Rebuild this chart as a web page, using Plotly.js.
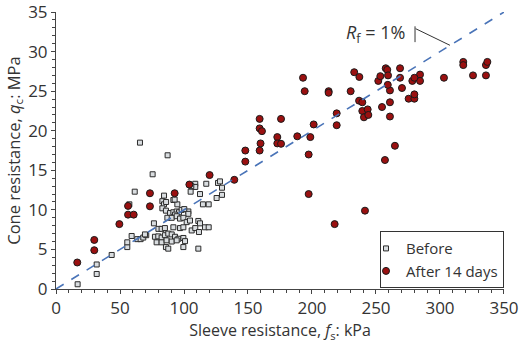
<!DOCTYPE html>
<html>
<head>
<meta charset="utf-8">
<script src="https://cdn.plot.ly/plotly-3.0.1.min.js"></script>
<style>html,body{margin:0;padding:0;background:#fff;}#chart{width:520px;height:347px;}</style>
</head>
<body>
<div id="chart"></div>
<script>
// Before: sleeve resistance fs (kPa) and cone resistance qc (MPa)
const beforeFs = [16.9,31.8,31.8,43.5,55.7,55.7,59.1,57.3,61.5,65.6,63.5,66.1,68.2,70.5,75.5,87.2,84.4,105.2,108.8,108.8,105.7,117.4,112.5,126.6,128.1,125.5,114.8,119.3,129.7,129.7,83.1,84.4,91.7,94.8,103.4,83.1,85.9,89.1,91.7,94.3,96.1,98.2,100.2,103.4,93.0,87.0,90.4,94.3,96.9,99.5,102.1,104.7,111.2,112.5,76.5,80.0,82.5,85.1,91.7,96.9,99.5,106.0,108.8,116.4,119.3,69.5,77.3,79.9,82.5,85.1,87.7,90.4,93.0,95.6,99.5,78.6,82.5,86.4,90.4,94.3,100.8,111.7,85.9,87.7,99.5,111.2,86.0,92.7];
const beforeQc = [0.6,1.9,3.1,4.3,5.3,5.9,6.7,10.7,12.3,18.5,6.3,6.3,6.5,6.8,14.5,16.9,11.8,12.3,13.3,12.9,13.0,13.3,12.0,13.4,13.6,11.5,10.7,10.7,12.8,11.9,11.1,10.7,11.25,10.7,9.8,10.2,9.9,9.6,9.7,9.8,9.7,10.0,10.1,9.5,9.4,9.0,9.0,9.2,8.9,9.0,8.45,8.65,8.6,8.3,8.3,7.6,7.6,7.7,7.8,7.7,7.8,7.4,7.7,7.8,7.8,6.9,6.6,6.65,6.5,6.8,7.0,6.9,6.6,6.35,6.45,5.9,5.9,6.15,6.0,6.15,6.05,7.2,5.3,5.1,5.3,5.1,11.0,11.3];
// After 14 days
const afterFs = [16.6,29.9,29.9,49.5,56.3,56.3,60.7,73.4,73.4,92.7,104.2,120.0,139.3,147.9,147.9,159.1,159.1,160.9,175.8,159.8,159.1,172.9,172.9,175.8,188.5,193.0,194.3,213.0,213.0,219.3,219.3,201.3,198.7,197.4,197.4,217.7,241.4,230.2,233.0,237.0,236.8,239.3,239.3,243.5,240.6,244.0,251.8,253.4,257.6,258.8,259.4,268.8,268.8,270.3,260.9,278.4,284.4,284.4,280.0,260.9,254.7,260.9,275.5,280.0,280.0,303.1,318.2,318.2,325.8,335.9,335.9,337.0,257.0,264.8,259.2];
const afterQc = [3.35,6.2,4.9,8.2,10.5,9.4,9.4,12.1,10.45,12.1,13.2,14.4,13.8,17.5,16.1,21.5,20.3,19.95,21.5,18.4,17.5,19.2,18.4,18.35,19.3,26.7,25.0,25.0,24.8,22.2,20.7,20.8,19.2,17.0,12.0,8.2,9.9,25.0,27.4,26.8,23.8,23.6,22.5,22.7,21.7,22.0,26.3,26.9,27.9,27.7,27.0,27.9,26.7,25.4,25.1,26.3,27.1,26.3,26.7,23.6,23.0,21.8,24.05,24.05,24.6,26.7,28.7,28.3,27.0,27.0,28.3,28.7,16.3,18.1,25.8];
// Rf = 1% reference line (qc = fs/10)
const rfFs = [0, 350];
const rfQc = [0, 35];
const seriesNames = ['Before', 'After 14 days'];
const xTicks = [0,50,100,150,200,250,300,350];
const yTicks = [0,5,10,15,20,25,30,35];

const font = 'Open Sans, Noto Sans, sans-serif';
const txt = '#333333';

const traces = [
  {x: beforeFs, y: beforeQc, name: seriesNames[0], type: 'scatter', mode: 'markers',
   marker: {symbol: 'square', size: 5, color: '#d9dde0', line: {color: '#2b2b2b', width: 1}}},
  {x: afterFs, y: afterQc, name: seriesNames[1], type: 'scatter', mode: 'markers',
   marker: {symbol: 'circle', size: 7, color: '#9a1010', line: {color: '#1a1a1a', width: 1}}},
  {x: rfFs, y: rfQc, type: 'scatter', mode: 'lines', showlegend: false, hoverinfo: 'skip',
   line: {color: '#4a74b8', width: 1.6, dash: 'dash'}}
];

const layout = {
  width: 520, height: 347,
  margin: {l: 56, r: 16, t: 12, b: 58},
  paper_bgcolor: '#fff', plot_bgcolor: '#fff',
  font: {family: font, size: 16, color: txt},
  showlegend: true,
  xaxis: {
    range: [0, 350.01], tickvals: xTicks, ticks: 'outside', ticklen: 4, ticklabeloverflow: 'allow',
    tickcolor: '#444', showline: true, linecolor: '#444', linewidth: 1, showgrid: false, zeroline: false,
    minor: {dtick: 10, ticks: 'outside', ticklen: 3, tickcolor: '#444', showgrid: false},
    tickfont: {family: font, size: 17, color: txt},
    title: {text: 'Sleeve resistance, <i>f</i><sub>s</sub>: kPa', font: {family: font, size: 16, color: txt}, standoff: 5}
  },
  yaxis: {
    range: [0, 35.01], tickvals: yTicks, ticks: 'outside', ticklen: 4, ticklabeloverflow: 'allow',
    tickcolor: '#444', showline: true, linecolor: '#444', linewidth: 1, showgrid: false, zeroline: false,
    minor: {dtick: 1, ticks: 'outside', ticklen: 3, tickcolor: '#444', showgrid: false},
    tickfont: {family: font, size: 17, color: txt},
    title: {text: 'Cone resistance, <i>q</i><sub>c</sub>: MPa', font: {family: font, size: 16.5, color: txt}, standoff: 3}
  },
  legend: {
    x: 1, xanchor: 'right', y: 0.003, yanchor: 'bottom',
    bordercolor: '#333', borderwidth: 1, bgcolor: '#fff',
    font: {family: font, size: 15, color: txt},
    itemwidth: 30, tracegroupgap: 0, indentation: -15
  },
  annotations: [
    {x: 250, y: 32.3, xref: 'x', yref: 'y', text: '<i>R</i><sub>f</sub> = 1%', showarrow: false,
     xanchor: 'center', yanchor: 'middle', font: {family: font, size: 18, color: txt}}
  ],
  shapes: [
    {type: 'line', xref: 'x', yref: 'y', x0: 280.5, x1: 280.5, y0: 31.2, y1: 33.2, line: {color: '#333', width: 1}},
    {type: 'line', xref: 'x', yref: 'y', x0: 281, x1: 307.8, y0: 32.9, y1: 30.8, line: {color: '#333', width: 1}}
  ]
};

Plotly.newPlot('chart', traces, layout, {displayModeBar: false, staticPlot: true});
</script>
</body>
</html>
